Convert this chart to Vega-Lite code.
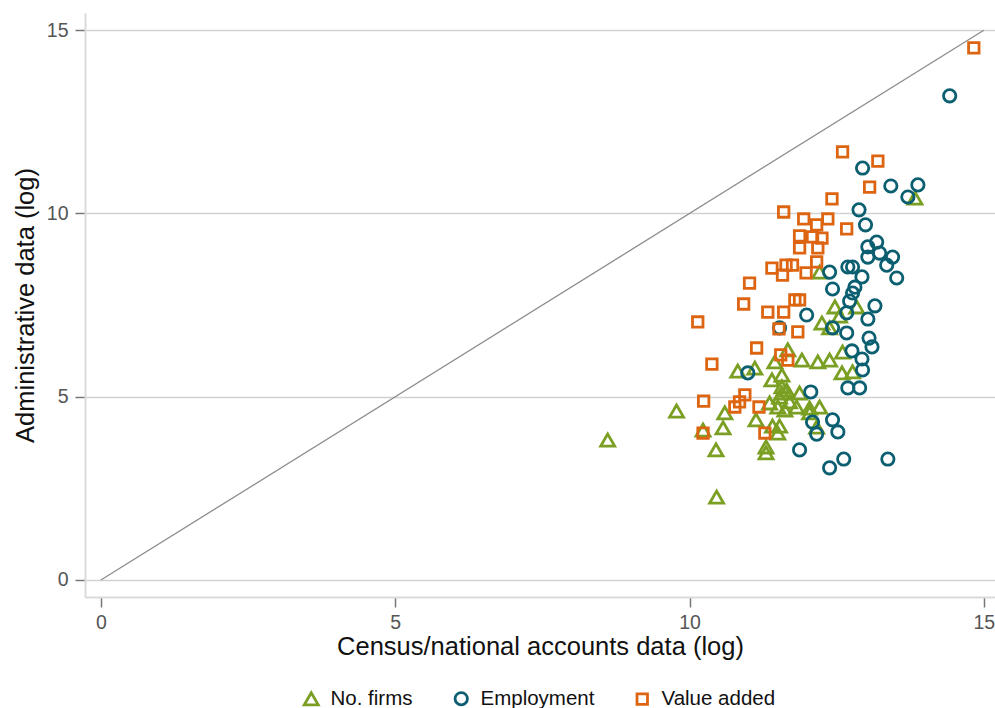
{
  "$schema": "https://vega.github.io/schema/vega-lite/v6.json",
  "width": 910,
  "height": 584,
  "autosize": "none",
  "padding": {"left": 85, "top": 13, "right": 0, "bottom": 111},
  "background": "white",
  "config": {
    "view": {"stroke": null},
    "font": "Liberation Sans",
    "axis": {
      "labelFont": "Liberation Sans",
      "titleFont": "Liberation Sans",
      "labelFontSize": 19.5,
      "labelColor": "#555555",
      "titleFontSize": 25.5,
      "titleFontWeight": "normal",
      "titleColor": "#111111",
      "domainColor": "#dadada",
      "domainWidth": 2,
      "tickColor": "#777777",
      "tickWidth": 1.5,
      "tickSize": 10,
      "gridColor": "#d2d2d2",
      "gridWidth": 1.4,
      "format": "d"
    },
    "legend": {
      "labelFont": "Liberation Sans",
      "labelFontSize": 20.5,
      "labelColor": "#111111",
      "symbolStrokeWidth": 2.8,
      "symbolSize": 115,
      "columnPadding": 36,
      "labelOffset": 9,
      "padding": 0
    }
  },
  "layer": [
    {
      "data": {"values": [{"x0": 0, "y0": 0, "x1": 15, "y1": 15}]},
      "mark": {"type": "rule", "color": "#8c8c8c", "strokeWidth": 1.3},
      "encoding": {
        "x": {"field": "x0", "type": "quantitative", "scale": {"domain": [-0.27, 15.19], "nice": false, "zero": false}},
        "y": {"field": "y0", "type": "quantitative", "scale": {"domain": [-0.464, 15.47], "nice": false, "zero": false}},
        "x2": {"field": "x1"},
        "y2": {"field": "y1"}
      }
    },
    {
      "data": {
        "values": [
          {"series": "No. firms", "census": 8.61, "admin": 3.82},
          {"series": "No. firms", "census": 9.78, "admin": 4.61},
          {"series": "No. firms", "census": 10.45, "admin": 3.55},
          {"series": "No. firms", "census": 10.46, "admin": 2.26},
          {"series": "No. firms", "census": 10.23, "admin": 4.09},
          {"series": "No. firms", "census": 10.57, "admin": 4.15},
          {"series": "No. firms", "census": 10.6, "admin": 4.56},
          {"series": "No. firms", "census": 10.82, "admin": 5.7},
          {"series": "No. firms", "census": 11.11, "admin": 5.78},
          {"series": "No. firms", "census": 11.13, "admin": 4.37},
          {"series": "No. firms", "census": 11.3, "admin": 3.63},
          {"series": "No. firms", "census": 11.3, "admin": 3.47},
          {"series": "No. firms", "census": 11.41, "admin": 4.2},
          {"series": "No. firms", "census": 11.53, "admin": 4.2},
          {"series": "No. firms", "census": 11.5, "admin": 4.01},
          {"series": "No. firms", "census": 11.4, "admin": 5.46},
          {"series": "No. firms", "census": 11.57, "admin": 5.59},
          {"series": "No. firms", "census": 11.45, "admin": 5.95},
          {"series": "No. firms", "census": 11.67, "admin": 6.28},
          {"series": "No. firms", "census": 11.36, "admin": 4.83},
          {"series": "No. firms", "census": 11.57, "admin": 5.1},
          {"series": "No. firms", "census": 11.57, "admin": 5.27},
          {"series": "No. firms", "census": 11.65, "admin": 5.18},
          {"series": "No. firms", "census": 11.53, "admin": 4.99},
          {"series": "No. firms", "census": 11.7, "admin": 4.86},
          {"series": "No. firms", "census": 11.82, "admin": 4.72},
          {"series": "No. firms", "census": 11.5, "admin": 4.72},
          {"series": "No. firms", "census": 11.62, "admin": 4.64},
          {"series": "No. firms", "census": 12.04, "admin": 4.69},
          {"series": "No. firms", "census": 12.21, "admin": 4.72},
          {"series": "No. firms", "census": 12.04, "admin": 4.56},
          {"series": "No. firms", "census": 11.87, "admin": 5.1},
          {"series": "No. firms", "census": 12.16, "admin": 4.17},
          {"series": "No. firms", "census": 11.91, "admin": 6.0},
          {"series": "No. firms", "census": 12.18, "admin": 5.95},
          {"series": "No. firms", "census": 12.38, "admin": 6.0},
          {"series": "No. firms", "census": 12.59, "admin": 5.65},
          {"series": "No. firms", "census": 12.77, "admin": 5.68},
          {"series": "No. firms", "census": 12.6, "admin": 6.22},
          {"series": "No. firms", "census": 12.25, "admin": 7.01},
          {"series": "No. firms", "census": 12.38, "admin": 6.88},
          {"series": "No. firms", "census": 12.55, "admin": 7.2},
          {"series": "No. firms", "census": 12.47, "admin": 7.45},
          {"series": "No. firms", "census": 12.84, "admin": 7.45},
          {"series": "No. firms", "census": 12.21, "admin": 8.4},
          {"series": "No. firms", "census": 13.83, "admin": 10.42},
          {"series": "Employment", "census": 14.42, "admin": 13.21},
          {"series": "Employment", "census": 12.94, "admin": 11.24},
          {"series": "Employment", "census": 13.42, "admin": 10.75},
          {"series": "Employment", "census": 13.88, "admin": 10.78},
          {"series": "Employment", "census": 13.71, "admin": 10.45},
          {"series": "Employment", "census": 12.88, "admin": 10.1},
          {"series": "Employment", "census": 12.99, "admin": 9.69},
          {"series": "Employment", "census": 13.18, "admin": 9.22},
          {"series": "Employment", "census": 13.03, "admin": 9.09},
          {"series": "Employment", "census": 13.23, "admin": 8.92},
          {"series": "Employment", "census": 13.03, "admin": 8.81},
          {"series": "Employment", "census": 13.45, "admin": 8.81},
          {"series": "Employment", "census": 13.35, "admin": 8.59},
          {"series": "Employment", "census": 13.52, "admin": 8.24},
          {"series": "Employment", "census": 12.38, "admin": 8.4},
          {"series": "Employment", "census": 12.69, "admin": 8.54},
          {"series": "Employment", "census": 12.77, "admin": 8.54},
          {"series": "Employment", "census": 12.93, "admin": 8.27},
          {"series": "Employment", "census": 12.43, "admin": 7.94},
          {"series": "Employment", "census": 12.81, "admin": 7.99},
          {"series": "Employment", "census": 12.77, "admin": 7.83},
          {"series": "Employment", "census": 12.72, "admin": 7.61},
          {"series": "Employment", "census": 13.15, "admin": 7.48},
          {"series": "Employment", "census": 12.67, "admin": 7.29},
          {"series": "Employment", "census": 13.03, "admin": 7.12},
          {"series": "Employment", "census": 11.99, "admin": 7.23},
          {"series": "Employment", "census": 12.43, "admin": 6.88},
          {"series": "Employment", "census": 12.67, "admin": 6.74},
          {"series": "Employment", "census": 13.05, "admin": 6.6},
          {"series": "Employment", "census": 13.1, "admin": 6.36},
          {"series": "Employment", "census": 12.76, "admin": 6.25},
          {"series": "Employment", "census": 12.93, "admin": 6.03},
          {"series": "Employment", "census": 12.94, "admin": 5.73},
          {"series": "Employment", "census": 12.69, "admin": 5.24},
          {"series": "Employment", "census": 12.89, "admin": 5.24},
          {"series": "Employment", "census": 12.06, "admin": 5.13},
          {"series": "Employment", "census": 12.43, "admin": 4.37},
          {"series": "Employment", "census": 12.52, "admin": 4.04},
          {"series": "Employment", "census": 12.09, "admin": 4.31},
          {"series": "Employment", "census": 12.16, "admin": 3.98},
          {"series": "Employment", "census": 11.87, "admin": 3.55},
          {"series": "Employment", "census": 12.38, "admin": 3.06},
          {"series": "Employment", "census": 12.62, "admin": 3.3},
          {"series": "Employment", "census": 13.37, "admin": 3.3},
          {"series": "Employment", "census": 10.99, "admin": 5.65},
          {"series": "Employment", "census": 11.53, "admin": 6.88},
          {"series": "Value added", "census": 14.83, "admin": 14.52},
          {"series": "Value added", "census": 12.6, "admin": 11.68},
          {"series": "Value added", "census": 13.2, "admin": 11.43},
          {"series": "Value added", "census": 13.06, "admin": 10.72},
          {"series": "Value added", "census": 12.42, "admin": 10.4},
          {"series": "Value added", "census": 11.6, "admin": 10.04},
          {"series": "Value added", "census": 12.67, "admin": 9.58},
          {"series": "Value added", "census": 11.94, "admin": 9.85},
          {"series": "Value added", "census": 12.35, "admin": 9.85},
          {"series": "Value added", "census": 12.16, "admin": 9.69},
          {"series": "Value added", "census": 11.87, "admin": 9.39},
          {"series": "Value added", "census": 12.09, "admin": 9.36},
          {"series": "Value added", "census": 12.25, "admin": 9.33},
          {"series": "Value added", "census": 11.87, "admin": 9.06},
          {"series": "Value added", "census": 12.18, "admin": 9.06},
          {"series": "Value added", "census": 12.16, "admin": 8.68},
          {"series": "Value added", "census": 11.4, "admin": 8.51},
          {"series": "Value added", "census": 11.64, "admin": 8.59},
          {"series": "Value added", "census": 11.75, "admin": 8.59},
          {"series": "Value added", "census": 11.98, "admin": 8.38},
          {"series": "Value added", "census": 11.58, "admin": 8.32},
          {"series": "Value added", "census": 11.02, "admin": 8.1},
          {"series": "Value added", "census": 10.92, "admin": 7.53},
          {"series": "Value added", "census": 11.33, "admin": 7.31},
          {"series": "Value added", "census": 11.6, "admin": 7.31},
          {"series": "Value added", "census": 11.79, "admin": 7.64},
          {"series": "Value added", "census": 11.87, "admin": 7.64},
          {"series": "Value added", "census": 10.14, "admin": 7.04},
          {"series": "Value added", "census": 11.52, "admin": 6.85},
          {"series": "Value added", "census": 11.84, "admin": 6.77},
          {"series": "Value added", "census": 11.14, "admin": 6.33},
          {"series": "Value added", "census": 11.55, "admin": 6.14},
          {"series": "Value added", "census": 11.67, "admin": 6.0},
          {"series": "Value added", "census": 10.38, "admin": 5.89},
          {"series": "Value added", "census": 10.24, "admin": 4.88},
          {"series": "Value added", "census": 10.94, "admin": 5.05},
          {"series": "Value added", "census": 10.85, "admin": 4.86},
          {"series": "Value added", "census": 10.77, "admin": 4.72},
          {"series": "Value added", "census": 11.18, "admin": 4.72},
          {"series": "Value added", "census": 10.23, "admin": 4.01},
          {"series": "Value added", "census": 11.28, "admin": 4.01}
        ]
      },
      "mark": {"type": "point", "filled": false, "strokeWidth": 2.8, "opacity": 1},
      "encoding": {
        "x": {
          "field": "census",
          "type": "quantitative",
          "scale": {"domain": [-0.27, 15.19], "nice": false, "zero": false},
          "axis": {"title": "Census/national accounts data (log)", "values": [0, 5, 10, 15], "grid": false, "labelPadding": 6, "titlePadding": 3}
        },
        "y": {
          "field": "admin",
          "type": "quantitative",
          "scale": {"domain": [-0.464, 15.47], "nice": false, "zero": false},
          "axis": {"title": "Administrative data (log)", "values": [0, 5, 10, 15], "grid": true, "labelPadding": 7, "titlePadding": 8}
        },
        "color": {
          "field": "series",
          "type": "nominal",
          "scale": {"domain": ["No. firms", "Employment", "Value added"], "range": ["#7a9f22", "#0b5f70", "#dd6512"]},
          "legend": {"title": null, "orient": "none", "direction": "horizontal", "legendX": 216, "legendY": 675}
        },
        "shape": {
          "field": "series",
          "type": "nominal",
          "scale": {"domain": ["No. firms", "Employment", "Value added"], "range": ["triangle-up", "circle", "square"]},
          "legend": {"title": null, "orient": "none", "direction": "horizontal", "legendX": 216, "legendY": 675}
        },
        "size": {
          "field": "series",
          "type": "nominal",
          "scale": {"domain": ["No. firms", "Employment", "Value added"], "range": [195, 110, 200]},
          "legend": null
        }
      }
    }
  ]
}
